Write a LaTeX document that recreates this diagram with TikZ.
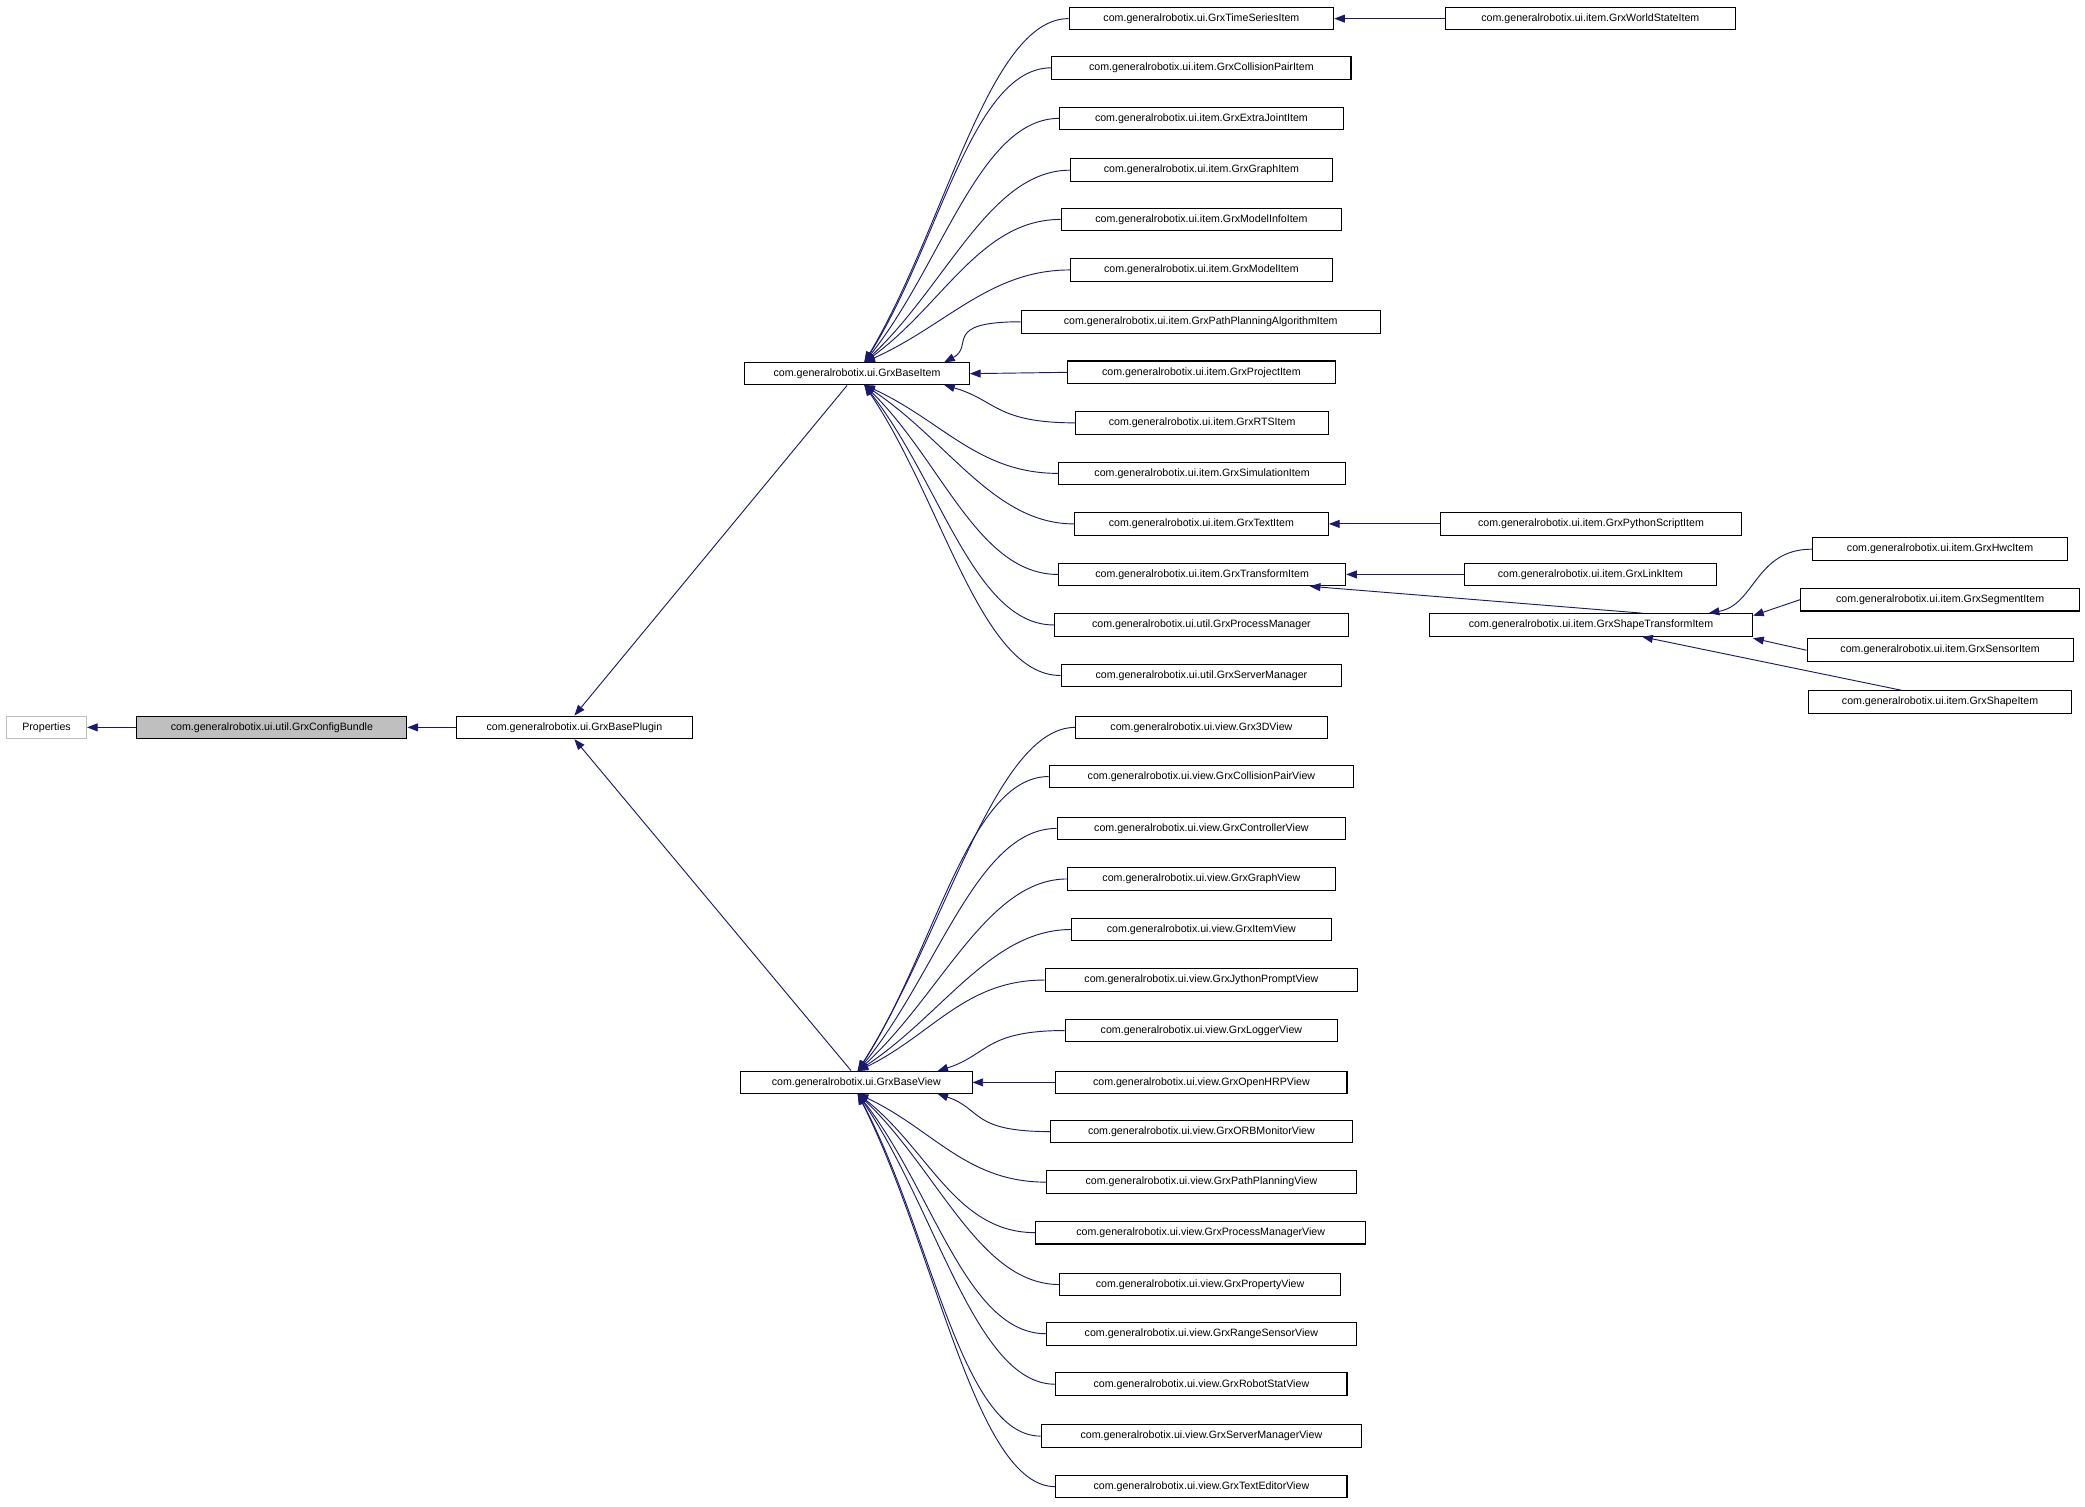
\documentclass[tikz,border=0pt]{standalone}
\usepackage{fontspec}
\setmainfont{Liberation Sans}
\usetikzlibrary{arrows.meta,calc}
\definecolor{navy}{HTML}{191970}
\tikzset{box/.style={draw=black,line width=0.8pt,fill=white,minimum height=17pt,inner sep=0pt,font=\fontsize{8}{9}\selectfont},
arr/.style={draw=navy,line width=0.7pt,{Triangle[length=8pt,width=6pt]}-}}
\newcommand\mynode[5][]{\node[box,#1,minimum width=#4-#3] (#2) at ({(#3+#4)/2},#5) {#2x};}
\newcommand\bx[6][]{\node[box,#1,minimum width={#4-#3}] (#2) at ({(#3+#4)/2},#5) {#6};}
\newcommand\rad[3]{\draw[arr] (#2) .. controls ($(#2)!0.4!(#1.west)$) and ($(#1.west)+(-60,0)$) .. (#1.west);}
\begin{document}
\begin{tikzpicture}[x=1pt,y=-1pt]
\useasboundingbox (0,0) rectangle (1568,1133);
\bx[draw=gray!50]{props}{5}{65}{547}{Properties}
\bx[fill=gray!50]{cfg}{103}{306}{547}{com.generalrobotix.ui.util.GrxConfigBundle}
\bx{plugin}{343}{521}{547}{com.generalrobotix.ui.GrxBasePlugin}
\bx{bitem}{560}{729}{281}{com.generalrobotix.ui.GrxBaseItem}
\bx{bview}{557}{731}{814}{com.generalrobotix.ui.GrxBaseView}
\def\P{com.generalrobotix.ui.item.}
\bx{ts}{804}{1003}{14}{com.generalrobotix.ui.GrxTimeSeriesItem}
\bx{cp}{791}{1016}{51}{\P GrxCollisionPairItem}
\bx{ej}{797}{1010}{89}{\P GrxExtraJointItem}
\bx{gi}{805}{1002}{128}{\P GrxGraphItem}
\bx{mi}{798}{1009}{165}{\P GrxModelInfoItem}
\bx{mo}{805}{1002}{203}{\P GrxModelItem}
\bx{pp}{768}{1038}{242}{\P GrxPathPlanningAlgorithmItem}
\bx{pr}{803}{1004}{280}{\P GrxProjectItem}
\bx{rts}{809}{999}{318}{\P GrxRTSItem}
\bx{sim}{796}{1012}{356}{\P GrxSimulationItem}
\bx{txt}{808}{999}{394}{\P GrxTextItem}
\bx{tr}{796}{1012}{432}{\P GrxTransformItem}
\bx{pm}{793}{1014}{470}{com.generalrobotix.ui.util.GrxProcessManager}
\bx{sm}{798}{1009}{508}{com.generalrobotix.ui.util.GrxServerManager}
\bx{ws}{1087}{1305}{14}{\P GrxWorldStateItem}
\bx{py}{1083}{1310}{394}{\P GrxPythonScriptItem}
\bx{li}{1101}{1291}{432}{\P GrxLinkItem}
\bx{st}{1075}{1318}{470}{\P GrxShapeTransformItem}
\bx{hw}{1363}{1555}{413}{\P GrxHwcItem}
\bx{se}{1354}{1564}{451}{\P GrxSegmentItem}
\bx{sn}{1359}{1559}{489}{\P GrxSensorItem}
\bx{sh}{1360}{1558}{528}{\P GrxShapeItem}
\def\V{com.generalrobotix.ui.view.}
\bx{v1}{809}{998}{547}{\V Grx3DView}
\bx{v2}{789}{1018}{584}{\V GrxCollisionPairView}
\bx{v3}{795}{1012}{623}{\V GrxControllerView}
\bx{v4}{803}{1004}{661}{\V GrxGraphView}
\bx{v5}{806}{1001}{699}{\V GrxItemView}
\bx{v6}{786}{1021}{737}{\V GrxJythonPromptView}
\bx{v7}{801}{1006}{775}{\V GrxLoggerView}
\bx{v8}{794}{1013}{814}{\V GrxOpenHRPView}
\bx{v9}{790}{1017}{851}{\V GrxORBMonitorView}
\bx{v10}{787}{1020}{889}{\V GrxPathPlanningView}
\bx{v11}{779}{1027}{927}{\V GrxProcessManagerView}
\bx{v12}{797}{1008}{966}{\V GrxPropertyView}
\bx{v13}{787}{1020}{1003}{\V GrxRangeSensorView}
\bx{v14}{794}{1013}{1041}{\V GrxRobotStatView}
\bx{v15}{783}{1024}{1080}{\V GrxServerManagerView}
\bx{v16}{794}{1013}{1118}{\V GrxTextEditorView}
\draw[arr] (props) -- (cfg);
\draw[arr] (cfg) -- (plugin);
\draw[arr] (plugin.north) -- (bitem.south -| 637,0);
\draw[arr] (plugin.south) -- (bview.north -| 640,0);
\coordinate (iu) at (650,272.5); \coordinate (id) at (650,289.5);
\coordinate (iu2) at (710,272.5); \coordinate (id2) at (710,289.5);
\foreach \c in {ts,cp,ej,gi,mi,mo} {\rad{\c}{iu}{}}
\rad{pp}{iu2}{}
\draw[arr] (bitem.east) -- (pr.west);
\rad{rts}{id2}{}
\foreach \c in {sim,txt,tr,pm,sm} {\rad{\c}{id}{}}
\coordinate (vu) at (645,805.5); \coordinate (vd) at (645,822.5);
\coordinate (vu2) at (705,805.5); \coordinate (vd2) at (705,822.5);
\foreach \c in {v1,v2,v3,v4,v5,v6} {\rad{\c}{vu}{}}
\rad{v7}{vu2}{}
\draw[arr] (bview.east) -- (v8.west);
\rad{v9}{vd2}{}
\foreach \c in {v10,v11,v12,v13,v14,v15,v16} {\rad{\c}{vd}{}}
\draw[arr] (ts) -- (ws);
\draw[arr] (txt) -- (py);
\draw[arr] (tr) -- (li);
\draw[arr] (tr.south -| 985,0) -- (st.north -| 1235,0);
\draw[arr] (st.north -| 1285,0) .. controls (1320,455) and (1320,413) .. (hw.west);
\draw[arr] (st.east |- 0,463) -- (se.west);
\draw[arr] (st.east |- 0,480) -- (sn.west);
\draw[arr] (st.south -| 1235,0) -- (sh.north -| 1430,0);
\end{tikzpicture}
\end{document}
